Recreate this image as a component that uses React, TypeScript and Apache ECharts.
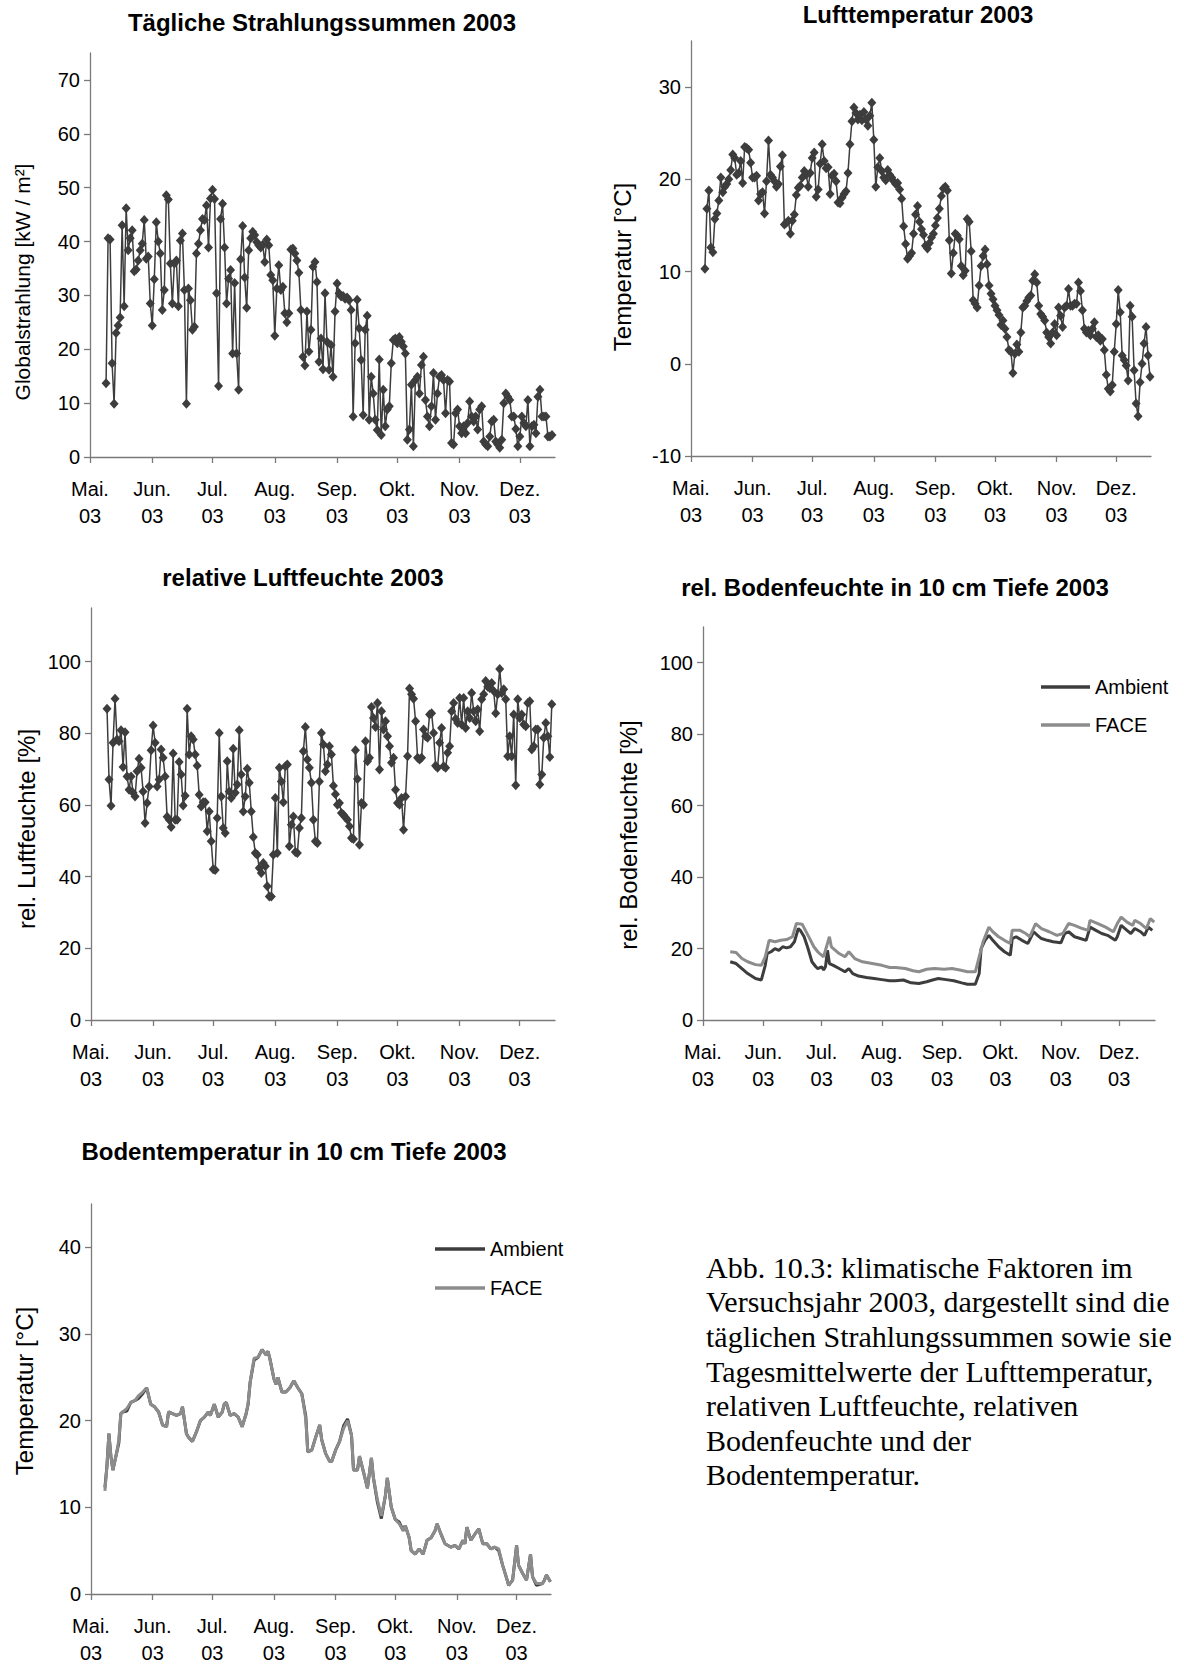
import React, { useEffect, useRef } from "react";
import * as echarts from "echarts";

// ---------- axis categories ----------
const MONTH_STARTS = [0, 31, 61, 92, 123, 153, 184, 214]; // days since 1 May 2003
const MONTH_NAMES = ["Mai.", "Jun.", "Jul.", "Aug.", "Sep.", "Okt.", "Nov.", "Dez."];
const YEAR_LABEL = "03";

const TITLES = [
  "Tägliche Strahlungssummen 2003",
  "Lufttemperatur 2003",
  "relative Luftfeuchte 2003",
  "rel. Bodenfeuchte in 10 cm Tiefe 2003",
  "Bodentemperatur in 10 cm Tiefe 2003",
];
const Y_NAMES = [
  "Globalstrahlung [kW / m²]",
  "Temperatur [°C]",
  "rel. Luftfeuchte [%]",
  "rel. Bodenfeuchte [%]",
  "Temperatur [°C]",
];
const SERIES_NAMES = ["Ambient", "FACE"];

// ---------- data ----------
const RAD_FIRST_DAY = 8;
const RADIATION = [
  13.7, 40.6, 40.4, 17.4, 9.9, 23, 24.4, 25.9, 43, 28,
  46.2, 38.4, 40.6, 42.1, 34.5, 34.8, 36.5, 38.4, 39.6, 44,
  36.8, 37.2, 28.5, 24.4, 33, 43.6, 40, 37.8, 27.3, 31,
  48.6, 47.8, 35.9, 28.5, 35.9, 36.5, 28, 40.2, 41.5, 31,
  9.9, 31.3, 29.1, 23.6, 24.2, 37.8, 39.6, 42.1, 44.2, 44,
  46.7, 38.9, 48, 49.6, 47.9, 30.4, 13.2, 44.2, 47, 38.9,
  28.5, 33.1, 34.7, 19.2, 32.3, 19.2, 12.5, 36.7, 42.9, 33.3,
  27.7, 38.4, 40.6, 41.8, 41.2, 39.9, 39.3, 38.9, 39.4, 36.2,
  40.4, 39.3, 33.8, 32.8, 22.5, 31.3, 35.6, 31, 31.6, 26.7,
  25, 26.7, 38.5, 38.7, 37.8, 36.5, 34.2, 27.3, 18.6, 17,
  27, 19.6, 23.6, 35.3, 36.2, 32.5, 17.7, 22, 16.3, 30.4,
  21.4, 16.2, 20.8, 14.9, 27, 32.2, 30.4, 29.8, 29.9, 29.4,
  29.6, 29.1, 27.3, 7.5, 21.1, 29.2, 23.9, 18, 7.8, 23.6,
  26.2, 6.9, 14.9, 11.8, 6.9, 5, 18.1, 4.1, 12.5, 5.7,
  8.8, 9.4, 17.4, 21.7, 22, 21.1, 22.3, 21.4, 20.5, 19.2,
  3.2, 5.1, 13.4, 2, 14.3, 14.9, 11.8, 17.1, 18.6, 10.6,
  7.5, 5.7, 9.4, 15.6, 6.9, 11.8, 14.9, 15.2, 14.3, 8.1,
  14.3, 14, 2.6, 2.3, 8.1, 8.8, 5.7, 4.4, 5.7, 4.4,
  6.3, 10.3, 7.5, 6.6, 7.5, 5.1, 8.8, 9.4, 2.9, 2.3,
  2, 3.8, 6.6, 6.9, 2.9, 2.3, 1.7, 3.2, 10, 11.8,
  11.2, 10.6, 7.5, 7.5, 5.2, 2, 3.8, 7.5, 6.3, 5.7,
  10.6, 2, 5.7, 6, 4.4, 11.2, 12.5, 7.5, 7.5, 7.5,
  3.8, 3.8, 4.1,
];

const AIR_FIRST_DAY = 7;
const AIR_TEMP = [
  10.3, 16.8, 18.8, 12.6, 12.1, 15.7, 16.3, 17.7, 20.2, 18.6,
  19.2, 19.5, 20, 21, 22.7, 22.3, 20.5, 20.7, 22, 19.6,
  23.5, 23.4, 23.2, 21.8, 20.2, 20.2, 20.4, 17.7, 18.4, 18.6,
  16.3, 19.8, 24.2, 20.5, 20.2, 19.8, 19.2, 19.5, 21.4, 22.6,
  15.1, 15.3, 15.5, 14.1, 15.5, 16.2, 18.3, 19.1, 19.3, 20.2,
  20.9, 20.5, 19.2, 20.7, 22.3, 22.9, 18.1, 18.9, 21.7, 23.8,
  22, 21.2, 21.3, 18.4, 20.4, 20.6, 19.8, 17.5, 17.4, 18,
  18.4, 18.7, 20.7, 23.8, 26.3, 27.8, 27.2, 26.5, 27, 26.4,
  27.3, 26.5, 25.8, 26.9, 28.3, 24.3, 19.2, 21.3, 22.3, 20.9,
  20.2, 19.9, 21, 20.5, 20.2, 19.8, 19.5, 19.6, 18.9, 17.9,
  14.9, 13, 11.4, 11.7, 12, 14.1, 16.2, 17.1,
  15.4, 14.6, 14, 12.8, 12.5, 13.1, 13.7, 14.1, 15, 15.8,
  16.8, 18.2, 19, 19.2, 18.8, 13.4, 9.8, 12, 14.1, 13.9,
  13.5, 10.6, 9.6, 10.1, 15.7, 15.4, 12.2,
  6.9, 6.5, 6.1, 8.5, 10.6, 11.7, 12.4, 10.8, 8.5, 7.6,
  7, 6.3, 5.8, 5.3, 4.2, 4.7, 3.8,
  2.9, 1.5, 1.3, -1, 1.1, 2.1, 1.3, 3.4, 6.1, 6.3,
  6.8, 7.2, 7.4, 9, 9.7, 8.8, 6.3, 5.4, 5.1, 4.7,
  3.4, 2.9, 2.2, 3.4, 4.3, 3.1, 6.1, 5.2, 4, 6.1,
  6.3, 8.1, 6.3, 6.3, 6.5, 6.5, 8.8, 7.9, 5.8, 3.8,
  3.4, 3.6, 3.1, 3.8, 4.5, 2.9, 3.1, 2.5, 2.7, 1.5,
  -1.2, -2.7, -3, -2.3, 1.3, 4.3, 8, 5.6, 0.9, 0.4,
  -0.2, -1.8, 6.3, 5.1, -0.7, -4.3, -5.7, -2, 0, 2.2,
  4, 0.9, -1.4,
];

const RH_FIRST_DAY = 8;
const REL_HUMIDITY = [
  86.9, 67.1, 59.8, 77.4, 89.7, 78.3, 77.8, 80.9, 70.6, 80.3,
  68, 64.3, 68, 63.4, 62.4, 69.4, 72.9, 70.4, 63.8, 55,
  60.6, 65.2, 75.3, 82.2, 77.4, 65.2, 67.1, 75.5, 73.2, 68,
  56.7, 55.9, 53.9, 74.4, 55.9, 55.9, 72, 68.5, 59.9, 62.6,
  86.9, 74.1, 79.2, 78.3, 74.1, 71, 62.9, 59.6, 60.8, 60.8,
  52.7, 58.2, 49.9, 42.1, 41.9, 56.4, 80.1, 62.4, 53.6, 52.2,
  72.2, 63.8, 62, 75.7, 63.4, 65.7, 80.9, 68.5, 58.2, 62.4,
  70.1, 66.2, 58.2, 51.1, 46.6, 46.1, 42.4, 41, 43.8, 42.9,
  37.3, 34.5, 34.5, 46.1, 62, 46.6, 70.4, 66.6, 60.8, 70.8,
  71.3, 48.5, 54.5, 56.8, 46.9, 46.6, 53.6, 56.4, 75, 81.8,
  72.7, 70.4, 66.2, 55.9, 49.9, 49.4, 66.6, 80.1, 76.9,
  69.4, 71.3, 76.4, 74.1, 65.4, 63, 60.1, 60.6, 57.8, 57.3,
  56.5, 55.9, 54.1, 50.8, 50.5, 75.3, 67.3, 48.9, 60.6, 60.1,
  77.8, 72.2, 73.2, 87.4, 84.3, 81.8, 88.5, 69.9, 86.2, 81.1,
  83.4, 79.2, 76.4, 71.8, 73.2, 64.3, 60.6, 60.1, 62, 53.1,
  62.4, 73.6, 92.5, 90.9, 89.7, 83.4, 73.2, 72.7, 73.2, 81.1,
  79.2, 78.8, 85.3, 85.6, 80.1, 71, 70.4, 77.4, 81.5, 70.8,
  70.4, 74.6, 76.4, 86.2, 88.5, 84, 82.9, 89.9, 82.5, 89.9,
  81.5, 86.2, 84.3, 91.3, 86.2, 83.4, 86.7, 80.6, 89.5, 90.9,
  94.6, 93, 92.7, 94.1, 91.8, 85.6, 90.9, 98, 91.3, 92.3,
  89.5, 73.6, 79.2, 73.6, 85.3, 65.5, 89.5, 84.3, 85.3, 82.5,
  82, 88.5, 89, 75.5, 76.4, 81.1, 81.1, 65.7, 68.5, 78.8,
  82.9, 79.2, 73.4, 88.1,
];

const SOIL_MOIST_AMB_DAYS = [
  14, 17, 20, 23, 27, 30, 32, 33, 35, 37, 39, 41, 43, 45, 47, 49, 50, 52, 54, 56,
  58, 59, 61, 62, 63, 64, 65, 67, 70, 73, 75, 77, 80, 84, 88, 92, 96, 99, 103, 107,
  111, 115, 118, 121, 125, 129, 133, 136, 140, 142, 143, 145, 147, 149, 152, 155, 158, 159, 161, 164,
  167, 170, 172, 174, 177, 180, 184, 186, 188, 191, 194, 197, 199, 202, 205, 208, 212, 213, 215, 218,
  220, 222, 225, 227, 229, 231,
];
const SOIL_MOIST_AMB = [
  16.3, 15.8, 14.4, 13, 11.6, 11.2, 15.3, 18.6, 19.1, 20, 19.5, 20.5, 20.2, 20.5, 21.9, 25.6, 25.1, 23.3, 20, 16.3,
  14.9, 14.4, 14.9, 14, 15, 19.5, 15.8, 15.3, 14.4, 13.5, 14.4, 13, 12.3, 11.9, 11.6, 11.3, 11, 11, 11.2, 10.4,
  10.2, 10.7, 11.2, 11.6, 11.3, 11, 10.4, 10, 10, 13, 20, 22.3, 23.7, 22.3, 20.5, 19.1, 18.1, 22.8, 23.3, 22.3,
  21.4, 24.7, 23.7, 22.8, 22.3, 21.9, 21.6, 24.2, 24.7, 23.3, 22.8, 22.3, 26, 25.1, 24.2, 23.7, 22.3, 23.3, 26.5, 25.1,
  24.2, 25.6, 24.7, 23.7, 26, 25.1,
];
const SOIL_MOIST_FACE_DAYS = [
  14, 17, 20, 23, 27, 30, 32, 34, 37, 40, 43, 46, 48, 51, 54, 57, 59, 60, 62, 65,
  66, 70, 73, 75, 78, 82, 87, 92, 96, 99, 104, 108, 111, 115, 119, 124, 128, 132, 136, 140,
  142, 144, 147, 149, 152, 155, 158, 159, 163, 166, 168, 171, 174, 178, 182, 185, 188, 191, 195, 198,
  199, 203, 207, 211, 213, 215, 218, 221, 222, 225, 228, 230, 232,
];
const SOIL_MOIST_FACE = [
  19.1, 18.9, 17.2, 16.3, 15.5, 15.3, 17.7, 22.3, 21.9, 22.3, 22.5, 23.3, 27, 26.8, 23.7, 20.5, 19.1, 18.6, 17.7, 23.3,
  20.5, 18.6, 17.7, 19.1, 17.2, 16.3, 15.8, 15.3, 14.7, 14.7, 14.4, 13.8, 13.5, 14.2, 14.4, 14.2, 14.4, 14, 13.5, 13.5,
  17.7, 21.9, 26, 24.7, 23.3, 22.3, 21.4, 25.1, 25.1, 24.2, 23.3, 27, 25.6, 24.7, 23.7, 24.2, 27, 26.5, 25.6, 25.1,
  27.9, 27, 26, 24.7, 27, 28.8, 27.4, 26.5, 27.9, 27, 25.6, 28.4, 27.4,
];

const SOIL_TEMP_DAYS = [
  7, 8, 9, 10, 11, 13, 14, 15, 16, 18, 20, 22, 24, 26, 28, 30, 32, 34, 36, 38,
  39, 41, 43, 45, 46, 48, 49, 51, 53, 55, 57, 59, 60, 62, 64, 66, 67, 68, 70, 72,
  74, 76, 78, 79, 80, 82, 84, 86, 88, 89, 90, 92, 93, 94, 96, 98, 100, 102, 104, 106,
  108, 109, 111, 113, 115, 116, 118, 120, 121, 123, 125, 127, 129, 131, 132, 134, 135, 137, 139, 141,
  142, 144, 146, 148, 149, 151, 153, 155, 157, 158, 160, 161, 163, 165, 167, 169, 171, 173, 174, 176,
  178, 181, 183, 185, 187, 188, 189, 191, 193, 195, 197, 199, 201, 203, 205, 207, 209, 210, 212, 214,
  215, 217, 219, 221, 222, 224, 227, 228, 229, 231,
];
const SOIL_TEMP_AMB = [
  12.3, 14.7, 18.5, 15.9, 14.3, 16.4, 17.4, 20.8, 21, 21.1, 22.1, 22.3, 22.6, 23.1, 23.8, 21.9, 21.6, 21, 19.5, 19.3,
  21, 20.8, 20.6, 20.8, 21.6, 18.5, 18.1, 17.6, 18.7, 20, 20.4, 21, 20.6, 21.9, 20.4, 21, 21.9, 22.1, 20.6, 20.8,
  20.4, 19.3, 20.8, 21.9, 24.4, 27, 27.3, 28.2, 27.6, 28, 27.1, 24.8, 24.2, 25, 23.3, 23.3, 23.8, 24.6, 23.8, 23.1,
  20.5, 16.4, 16.6, 18.1, 19.5, 17.8, 16.2, 15.3, 15.3, 16.6, 17.6, 19.4, 20.2, 18.3, 14.3, 14.3, 15.9, 14.1, 12.2, 15.7,
  13.4, 10.6, 8.7, 11.3, 13.4, 10, 8.6, 8.3, 7.3, 7.9, 6.5, 5, 4.6, 5.2, 4.6, 6.2, 6.5, 7.3, 8.1, 6.9,
  5.8, 5.4, 5.6, 5.2, 6.2, 5.8, 7.7, 6.2, 6.9, 7.5, 5.8, 5.8, 5.2, 5.4, 5, 3.3, 1.8, 1, 1.6, 5.6,
  3.3, 2.4, 1.6, 4.6, 2, 1, 1.2, 1.6, 2.2, 1.4,
];
const SOIL_TEMP_FACE = [
  11.9, 14.7, 18.5, 15.9, 14.3, 16.4, 17.8, 20.8, 21, 21.4, 22.1, 22.3, 22.9, 23.3, 23.8, 21.9, 21.6, 21, 19.5, 19.3,
  21, 20.8, 20.6, 20.8, 21.6, 18.5, 18.1, 17.6, 18.7, 20, 20.4, 21, 20.6, 21.9, 20.4, 21, 21.9, 22.1, 20.6, 20.8,
  20.4, 19.3, 20.8, 21.9, 24.4, 27.2, 27.3, 28.2, 27.6, 28, 27.1, 24.8, 24.2, 25, 23.3, 23.3, 23.8, 24.6, 23.8, 23.1,
  20.2, 16.4, 16.6, 18.1, 19.5, 17.8, 16.2, 15.3, 15.3, 16.6, 17.6, 19.1, 20, 18.3, 14.3, 14.3, 15.9, 14.1, 12.2, 15.7,
  13.4, 10.9, 9, 11.3, 13.4, 10, 8.6, 8.1, 7.3, 7.9, 6.5, 5, 4.6, 5.2, 4.6, 6.2, 6.5, 7.3, 8.1, 6.9,
  5.8, 5.4, 5.6, 5.2, 6.2, 5.8, 7.7, 6.2, 6.9, 7.5, 5.8, 5.8, 5.2, 5.4, 5.2, 3.3, 1.8, 1, 1.6, 5.6,
  3.3, 2.4, 1.6, 4.6, 2, 1.2, 1.2, 1.6, 2.2, 1.4,
];

const CAPTION_LINES = [
  "Abb. 10.3: klimatische Faktoren im",
  "Versuchsjahr 2003, dargestellt sind die",
  "täglichen Strahlungssummen sowie sie",
  "Tagesmittelwerte der Lufttemperatur,",
  "relativen Luftfeuchte, relativen",
  "Bodenfeuchte und der",
  "Bodentemperatur.",
];

// ---------- layout & style ----------
const SANS = "Liberation Sans";
const SERIF = "Liberation Serif";
const AXIS_GREY = "#7a7a7a";
const DARK = "#3d3d3d";
const LIGHT = "#8c8c8c";

const PANELS = [
  { left: 90, top: 53, width: 465, height: 404, xMax: 231.5, yMin: 0, yMax: 75, yStep: 10, title: [322, 22], yName: [22, 282], yNameSize: 21 },
  { left: 691, top: 41, width: 460, height: 415, xMax: 231.5, yMin: -10, yMax: 35, yStep: 10, title: [918, 14], yName: [622, 267], yNameSize: 24 },
  { left: 91, top: 608, width: 464, height: 412, xMax: 231.6, yMin: 0, yMax: 115, yStep: 20, title: [303, 577], yName: [26, 829], yNameSize: 24 },
  { left: 703, top: 627, width: 452, height: 393, xMax: 232.4, yMin: 0, yMax: 110, yStep: 20, title: [895, 587], yName: [628, 835], yNameSize: 24 },
  { left: 91, top: 1204, width: 460, height: 392, xMax: 231.3, yMin: 0, yMax: 45, yStep: 10, title: [294, 1151], yName: [24, 1391], yNameSize: 24 },
];

const LEGENDS = [
  { panel: 3, x1: 1041, x2: 1090, ys: [687, 725], textX: 1095 },
  { panel: 4, x1: 435, x2: 485, ys: [1249, 1288], textX: 490 },
];

function yValues(p: any) {
  const out: number[] = [];
  for (let v = p.yMin; v <= p.yMax + 1e-9; v += p.yStep) out.push(v);
  return out;
}

function buildOption() {
  const grid = PANELS.map((p) => ({ left: p.left, top: p.top, width: p.width, height: p.height, containLabel: false }));
  const axisLine = { show: true, onZero: false, lineStyle: { color: AXIS_GREY, width: 1.3 } };
  const xAxis = PANELS.map((p, i) => ({
    type: "value",
    gridIndex: i,
    min: 0,
    max: p.xMax,
    axisLine,
    axisTick: { show: true, inside: false, length: 6, customValues: MONTH_STARTS, lineStyle: { color: AXIS_GREY, width: 1.3 } },
    axisLabel: {
      customValues: MONTH_STARTS,
      formatter: (v: number) => {
        const k = MONTH_STARTS.indexOf(Math.round(v));
        return k >= 0 ? MONTH_NAMES[k] + "\n" + YEAR_LABEL : "";
      },
      fontSize: 20,
      fontFamily: SANS,
      color: "#000",
      lineHeight: 27,
      margin: 18,
      hideOverlap: false,
    },
    splitLine: { show: false },
  }));
  const yAxis = PANELS.map((p, i) => {
    const vals = yValues(p);
    return {
      type: "value",
      gridIndex: i,
      min: p.yMin,
      max: p.yMax,
      interval: p.yStep,
      axisLine,
      axisTick: { show: true, inside: false, length: 6, customValues: vals, lineStyle: { color: AXIS_GREY, width: 1.3 } },
      axisLabel: { customValues: vals, fontSize: 20, fontFamily: SANS, color: "#000", margin: 10 },
      splitLine: { show: false },
    };
  });

  const markerLine = (i: number, first: number, vals: number[]) => ({
    type: "line",
    xAxisIndex: i,
    yAxisIndex: i,
    data: vals.map((v, k) => [first + k, v]),
    symbol: "diamond",
    symbolSize: [9, 10],
    showSymbol: true,
    lineStyle: { color: DARK, width: 1.5 },
    itemStyle: { color: DARK },
    silent: true,
    emphasis: { disabled: true },
  });
  const plainLine = (i: number, name: string, days: number[], vals: number[], color: string) => ({
    type: "line",
    name,
    xAxisIndex: i,
    yAxisIndex: i,
    data: vals.map((v, k) => [days[k], v]),
    symbol: "none",
    showSymbol: false,
    lineStyle: { color, width: 3 },
    itemStyle: { color },
    silent: true,
    emphasis: { disabled: true },
  });

  const series = [
    markerLine(0, RAD_FIRST_DAY, RADIATION),
    markerLine(1, AIR_FIRST_DAY, AIR_TEMP),
    markerLine(2, RH_FIRST_DAY, REL_HUMIDITY),
    plainLine(3, SERIES_NAMES[0], SOIL_MOIST_AMB_DAYS, SOIL_MOIST_AMB, DARK),
    plainLine(3, SERIES_NAMES[1], SOIL_MOIST_FACE_DAYS, SOIL_MOIST_FACE, LIGHT),
    plainLine(4, SERIES_NAMES[0], SOIL_TEMP_DAYS, SOIL_TEMP_AMB, DARK),
    plainLine(4, SERIES_NAMES[1], SOIL_TEMP_DAYS, SOIL_TEMP_FACE, LIGHT),
  ];

  const graphic: any[] = [];
  PANELS.forEach((p, i) => {
    graphic.push({
      type: "text",
      x: p.title[0],
      y: p.title[1],
      style: { text: TITLES[i], fill: "#000", fontSize: 24, fontWeight: "bold", fontFamily: SANS, align: "center", verticalAlign: "middle", textAlign: "center", textVerticalAlign: "middle" },
    });
    graphic.push({
      type: "text",
      x: p.yName[0],
      y: p.yName[1],
      rotation: Math.PI / 2,
      style: { text: Y_NAMES[i], fill: "#000", fontSize: p.yNameSize, fontFamily: SANS, align: "center", verticalAlign: "middle", textAlign: "center", textVerticalAlign: "middle" },
    });
  });
  LEGENDS.forEach((lg) => {
    [DARK, LIGHT].forEach((c, k) => {
      graphic.push({ type: "line", shape: { x1: lg.x1, y1: lg.ys[k], x2: lg.x2, y2: lg.ys[k] }, style: { stroke: c, lineWidth: 3.5 } });
      graphic.push({
        type: "text",
        x: lg.textX,
        y: lg.ys[k],
        style: { text: SERIES_NAMES[k], fill: "#000", fontSize: 20, fontFamily: SANS, align: "left", verticalAlign: "middle", textAlign: "left", textVerticalAlign: "middle" },
      });
    });
  });
  graphic.push({
    type: "text",
    x: 706,
    y: 1250,
    style: { text: CAPTION_LINES.join("\n"), fill: "#000", fontSize: 30, fontFamily: SERIF, lineHeight: 34.6, align: "left", verticalAlign: "top", textAlign: "left", textVerticalAlign: "top" },
  });

  return { animation: false, backgroundColor: "#fff", grid, xAxis, yAxis, series, graphic };
}

export default function App() {
  const ref = useRef<HTMLDivElement>(null);
  useEffect(() => {
    if (!ref.current) return;
    const chart = echarts.init(ref.current, undefined, { renderer: "svg" });
    chart.setOption(buildOption() as any);
    return () => chart.dispose();
  }, []);
  return <div ref={ref} style={{ position: "absolute", left: 0, top: 0, width: 1184, height: 1666 }} />;
}
